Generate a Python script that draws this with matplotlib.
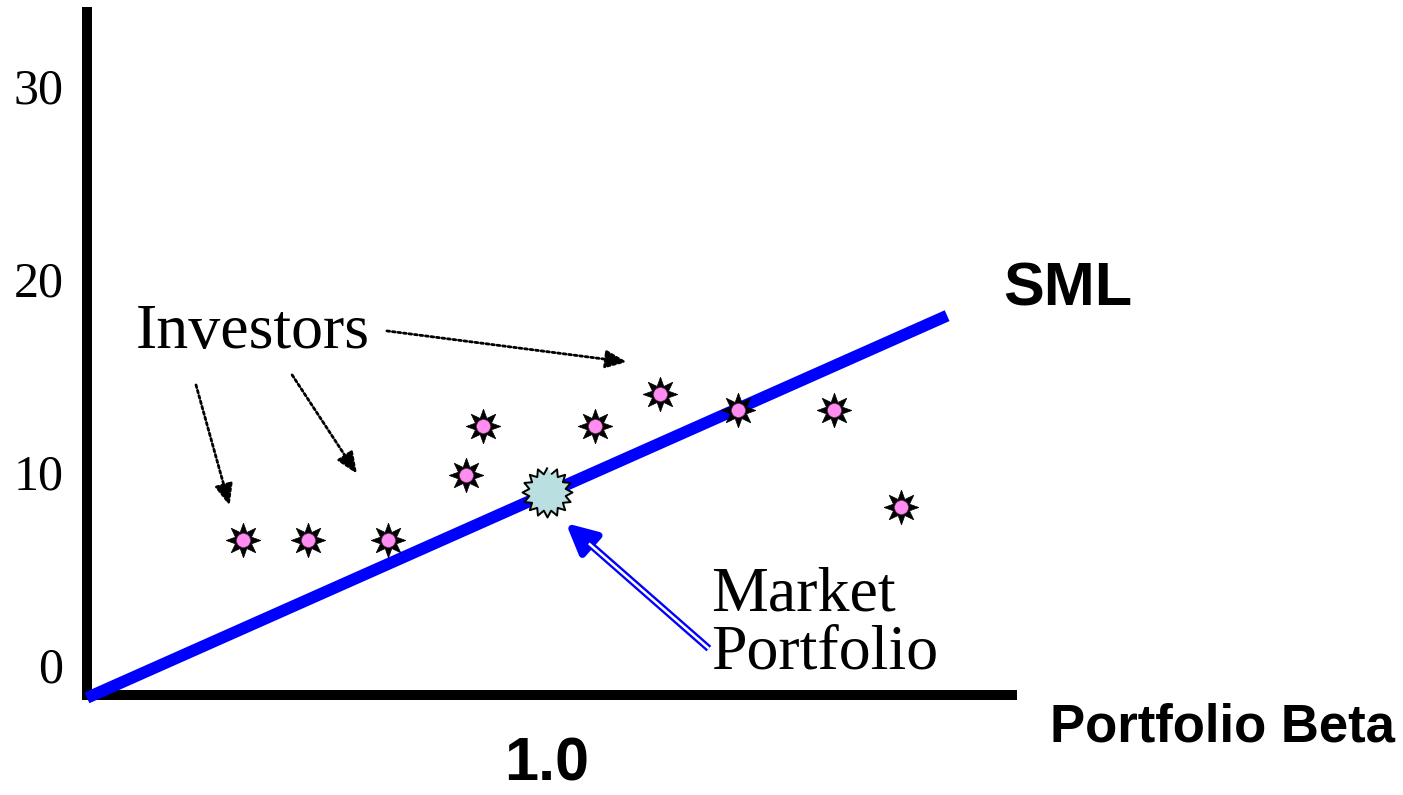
import numpy as np
import matplotlib
matplotlib.use('Agg')
import matplotlib.pyplot as plt

# Investor portfolios (beta, expected return)
inv_beta = [0.34, 0.48, 0.655, 0.825, 0.86, 1.105, 1.245, 1.415, 1.625, 1.77]
inv_ret = [6.5, 6.5, 6.5, 9.85, 12.4, 12.4, 14.05, 13.2, 13.2, 8.2]

# Market portfolio
mkt_beta = 1.0
mkt_ret = 8.95

# Security market line end points
sml_beta = [0.0, 1.87]
sml_ret = [-1.7, 18.1]

yticks = [0, 10, 20, 30]
xticks = [1.0]
xticklabels = ['1.0']

serif = 'Liberation Serif'
sans = 'Liberation Sans'

fig = plt.figure(figsize=(14.03, 7.95), dpi=100)
ax = fig.add_axes([0.062, 0.1258, 0.6593, 0.859])
ax.set_xlim(0, 2.011)
ax.set_ylim(-1.554, 33.83)

for s in ['top', 'right']:
    ax.spines[s].set_visible(False)
for s in ['left', 'bottom']:
    ax.spines[s].set_linewidth(7.2)
    ax.spines[s].set_capstyle('projecting')

ax.set_yticks(yticks)
ax.set_yticklabels([str(v) for v in yticks], fontsize=36, fontfamily=serif)
ax.set_xticks(xticks)
ax.set_xticklabels(xticklabels, fontsize=44, fontfamily=sans, fontweight='bold')
ax.tick_params(axis='y', length=0, pad=17)
ax.tick_params(axis='x', length=0, pad=30)

# SML
ax.plot(sml_beta, sml_ret, color='#0000ff', lw=8.5, solid_capstyle='butt',
        clip_on=False, zorder=3)

# investors: black 8-point star with pink centre
ax.plot(inv_beta, inv_ret, ls='none', marker=(8, 1, 0), ms=25,
        mfc='black', mec='black', mew=0.5, zorder=4)
ax.plot(inv_beta, inv_ret, ls='none', marker='o', ms=10,
        mfc='#ff8cf0', mec='#7a3070', mew=0.4, zorder=5)

# market portfolio: jagged burst
n = 16
ang = np.linspace(0, 2 * np.pi, 2 * n, endpoint=False) + np.pi / 2
rad = np.where(np.arange(2 * n) % 2 == 0, 1.0, 0.74)
burst = list(zip(rad * np.cos(ang), rad * np.sin(ang)))
ax.plot([mkt_beta], [mkt_ret], ls='none', marker=burst, ms=36,
        mfc='#b9dfe0', mec='black', mew=1.4, zorder=6)

# labels
ax.text(0.36, 17.2, 'Investors', fontsize=46, fontfamily=serif,
        ha='center', va='center')
arrow_kw = dict(arrowstyle='-|>,head_length=1.3,head_width=0.55', color='black',
                lw=2, ls=(0, (1, 1)), shrinkA=0, shrinkB=0)
ax.annotate('', xy=(1.174, 15.7), xytext=(0.652, 17.31), arrowprops=arrow_kw)
ax.annotate('', xy=(0.31, 8.25), xytext=(0.237, 14.51), arrowprops=arrow_kw)
ax.annotate('', xy=(0.587, 9.9), xytext=(0.446, 15.03), arrowprops=arrow_kw)

ax.text(1.358, 2.1, 'Market\nPortfolio', fontsize=46, fontfamily=serif,
        ha='left', va='center', linespacing=0.98)

# double-line arrow pointing at the market portfolio
tail = (1.352, 0.85)
tip = (1.041, 7.35)
ax.annotate('', xy=tip, xytext=tail,
            arrowprops=dict(arrowstyle='-|>,head_length=1.8,head_width=0.9',
                            color='#0000ff', lw=5.2, shrinkA=0, shrinkB=0,
                            capstyle='butt'),
            zorder=7)
ax.annotate('', xy=(1.091, 6.3), xytext=tail,
            arrowprops=dict(arrowstyle='-', color='white', lw=1.8,
                            shrinkA=0, shrinkB=0, capstyle='butt'),
            zorder=8)

fig.text(1068 / 1403, 1 - 290 / 795, 'SML', fontsize=44, fontfamily=sans,
         fontweight='bold', ha='center', va='center')
fig.text(1222 / 1403, 1 - 728 / 795, 'Portfolio Beta', fontsize=38,
         fontfamily=sans, fontweight='bold', ha='center', va='center')

fig.savefig('out.png', dpi=100)
